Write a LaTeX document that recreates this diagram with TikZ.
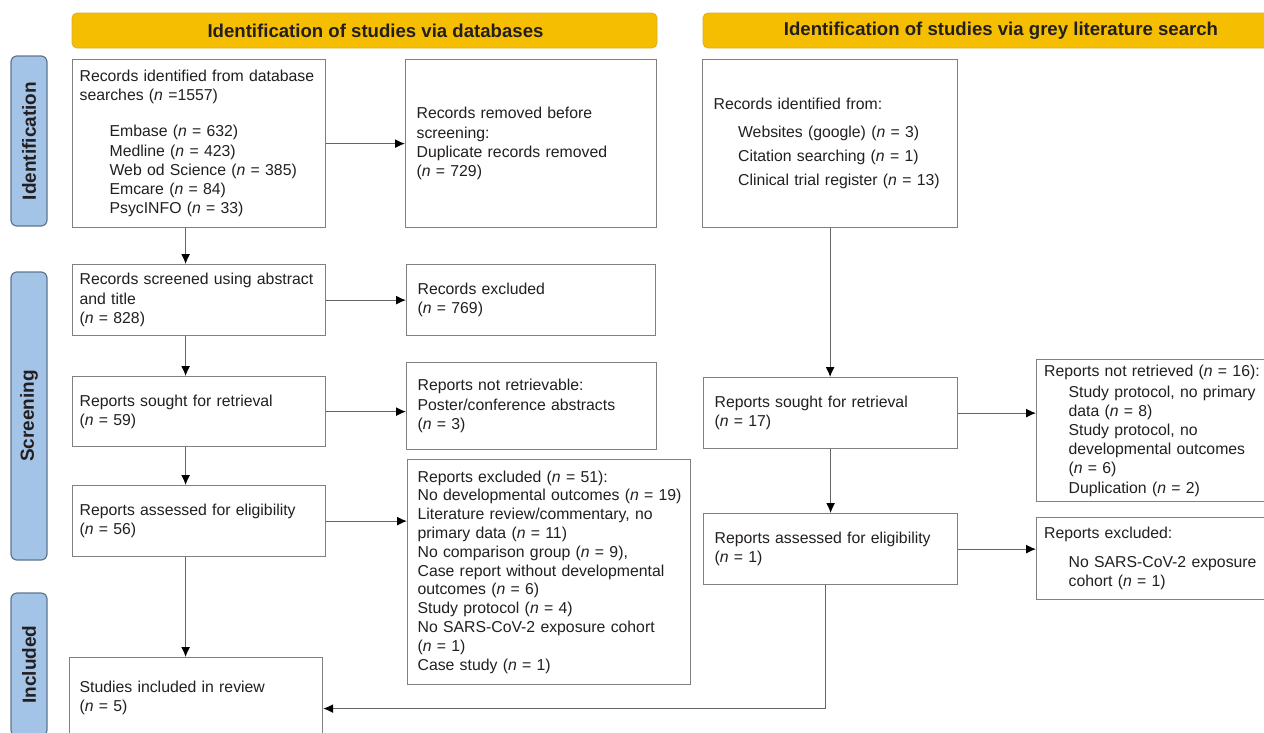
\documentclass[tikz,border=0pt]{standalone}
\usepackage{fontspec}
\setmainfont{Liberation Sans}
\usetikzlibrary{arrows.meta}
\definecolor{headyellow}{RGB}{246,190,0}
\definecolor{headedge}{RGB}{222,172,40}
\definecolor{sideblue}{RGB}{163,196,230}
\definecolor{sideedge}{RGB}{95,118,145}
\definecolor{boxedge}{RGB}{128,128,128}
\definecolor{linkgray}{RGB}{100,100,100}
\definecolor{ink}{RGB}{35,31,32}
\newcommand{\nv}[1]{(\textit{n} = #1)}
\newcommand{\inda}{\hspace*{30pt}}
\newcommand{\indb}{\hspace*{24.5pt}}

\begin{document}
\begin{tikzpicture}[x=1pt,y=-1pt,
  every node/.style={text=ink},
  head/.style={draw=headedge, fill=headyellow, rounded corners=5pt, line width=0.8pt, minimum height=35pt, font=\fontsize{18.6}{22}\selectfont\bfseries},
  side/.style={draw=sideedge, fill=sideblue, rounded corners=6pt, line width=1.2pt, minimum height=36pt, rotate=90, font=\fontsize{19}{22}\selectfont\bfseries},
  box/.style={draw=boxedge, fill=white, line width=1.2pt, anchor=north west, align=left, inner ysep=0pt, font=\fontsize{15.8}{19.2}\selectfont},
  link/.style={draw=linkgray, line width=1.2pt, -{Latex[length=10pt,width=9pt,color=black]}}]
\useasboundingbox (0,0) rectangle (1264,732);
\clip (0,0) rectangle (1264,732);

\node[head, minimum width=585pt] (dbhead) at (364.5,30.5) {\hspace*{22pt}Identification of studies via databases};
\node[head, minimum width=596pt] (greyhead) at (1001,30.5) {Identification of studies via grey literature search};

\node[side, minimum width=170pt] (ident) at (29,141) {Identification};
\node[side, minimum width=288pt] (screen) at (29,416) {Screening};
\node[side, minimum width=143pt] (incl) at (29,664.5) {Included};

\node[box, inner xsep=7pt, minimum width=253pt, minimum height=168pt, text width=239pt] (recdb) at (72,59) {Records identified from database\\ searches (\textit{n} =1557)\\[17pt] \inda Embase \nv{632}\\ \inda Medline \nv{423}\\ \inda Web od Science \nv{385}\\ \inda Emcare \nv{84}\\ \inda PsycINFO \nv{33}};
\node[box, inner xsep=11pt, minimum width=251pt, minimum height=168pt, text width=229pt] (removed) at (405,59) {Records removed before\\ screening:\\ Duplicate records removed\\ \nv{729}};
\node[box, inner xsep=7pt, minimum width=253pt, minimum height=71pt, text width=239pt] (screened) at (72,264) {Records screened using abstract\\ and title\\ \nv{828}};
\node[box, inner xsep=11pt, minimum width=249pt, minimum height=71pt, text width=227pt] (excluded) at (406,264) {Records excluded\\ \nv{769}};
\node[box, inner xsep=7pt, minimum width=253pt, minimum height=70pt, text width=239pt] (sought) at (72,376) {Reports sought for retrieval\\ \nv{59}};
\node[box, inner xsep=11pt, minimum width=250pt, minimum height=87pt, text width=228pt] (notretr) at (406,362) {Reports not retrievable:\\ Poster/conference abstracts\\ \nv{3}};
\node[box, inner xsep=7pt, minimum width=253pt, minimum height=71pt, text width=239pt] (assessed) at (72,485) {Reports assessed for eligibility\\ \nv{56}};
\node[box, inner xsep=10pt, minimum width=283pt, minimum height=225pt, text width=263pt, font=\fontsize{15.8}{18.8}\selectfont] (rptexcl) at (407,459) {Reports excluded \nv{51}:\\ \mbox{No developmental outcomes \nv{19}}\\ \mbox{Literature review/commentary, no}\\ primary data \nv{11}\\ No comparison group \nv{9},\\ \mbox{Case report without developmental}\\ outcomes \nv{6}\\ Study protocol \nv{4}\\ \mbox{No SARS-CoV-2 exposure cohort}\\ \nv{1}\\ Case study \nv{1}};
\node[box, inner xsep=10pt, minimum width=253pt, minimum height=80pt, text width=233pt] (included) at (69,657) {Studies included in review\\ \nv{5}};

\node[box, inner xsep=11pt, minimum width=255pt, minimum height=168pt, text width=233pt] (greyrec) at (702,59) {Records identified from:\\[8.5pt] \indb Websites (google) \nv{3}\\[5pt] \indb Citation searching \nv{1}\\[5pt] \indb Clinical trial register \nv{13}};
\node[box, inner xsep=11pt, minimum width=254pt, minimum height=71pt, text width=232pt] (greysought) at (703,377) {Reports sought for retrieval\\ \nv{17}};
\node[box, inner xsep=11pt, minimum width=254pt, minimum height=71pt, text width=232pt] (greyelig) at (703,513) {Reports assessed for eligibility\\ \nv{1}};
\node[box, inner xsep=7.5pt, minimum width=250pt, minimum height=142pt, text width=235pt] (greynot) at (1036,359) {Reports not retrieved \nv{16}:\\[1.5pt] \indb Study protocol, no primary\\ \indb data \nv{8}\\ \indb Study protocol, no\\ \indb developmental outcomes\\ \indb \nv{6}\\ \indb Duplication \nv{2}};
\node[box, inner xsep=7.5pt, minimum width=250pt, minimum height=82pt, text width=235pt] (greyexcl) at (1036,517) {Reports excluded:\\[10pt] \indb No SARS-CoV-2 exposure\\ \indb cohort \nv{1}};

\draw[link] (recdb.east) -- (recdb.east -| removed.west);
\draw[link] (screened.east) -- (screened.east -| excluded.west);
\draw[link] (sought.east) -- (sought.east -| notretr.west);
\draw[link] (assessed.east) -- (assessed.east -| rptexcl.west);
\draw[link] ([xshift=-13.5pt]recdb.south) -- ([xshift=-13.5pt]recdb.south |- screened.north);
\draw[link] ([xshift=-13.5pt]screened.south) -- ([xshift=-13.5pt]screened.south |- sought.north);
\draw[link] ([xshift=-13.5pt]sought.south) -- ([xshift=-13.5pt]sought.south |- assessed.north);
\draw[link] ([xshift=-13.5pt]assessed.south) -- ([xshift=-13.5pt]assessed.south |- included.north);
\draw[link] (greyrec.south) -- (greyrec.south |- greysought.north);
\draw[link] (greysought.south) -- (greysought.south |- greyelig.north);
\draw[link] (greysought.east) -- (greysought.east -| greynot.west);
\draw[link] (greyelig.east) -- (greyelig.east -| greyexcl.west);
\draw[link] ([xshift=-5pt]greyelig.south) |- ([yshift=-11pt]included.east);
\end{tikzpicture}
\end{document}
